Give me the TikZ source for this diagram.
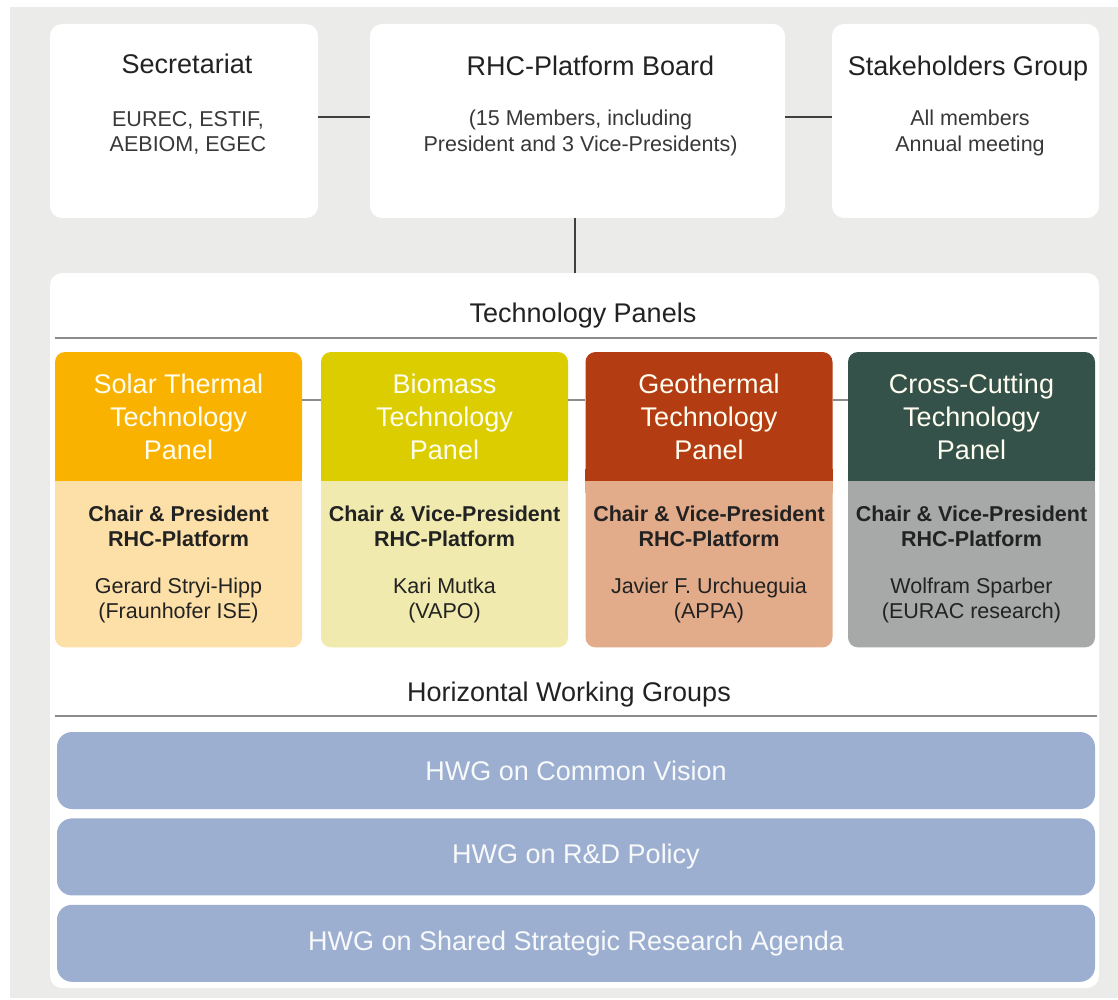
\documentclass[tikz,border=0pt]{standalone}
\usepackage{fontspec}
\setmainfont{Liberation Sans}
\usetikzlibrary{positioning,calc}

\definecolor{bggray}{HTML}{EBEBE9}
\definecolor{solarhdr}{HTML}{F9B200}
\definecolor{solarbody}{HTML}{FDE0A8}
\definecolor{biohdr}{HTML}{DCCD00}
\definecolor{biobody}{HTML}{F0EAAE}
\definecolor{geohdr}{HTML}{B33C12}
\definecolor{geobody}{HTML}{E2AB8A}
\definecolor{crosshdr}{HTML}{34514A}
\definecolor{crossbody}{HTML}{A6A9A7}
\definecolor{hwgblue}{HTML}{9CAFD0}
\definecolor{rulegray}{HTML}{8C8C8C}
\definecolor{inkgray}{HTML}{222222}

\begin{document}
\begin{tikzpicture}[x=1pt, y=-1pt,
    bigfont/.style={font=\fontsize{27}{33}\selectfont},
    smallfont/.style={font=\fontsize{21.5}{25.5}\selectfont},
    topbox/.style={fill=white, rounded corners=12pt, inner sep=0pt, minimum height=194pt},
    boxtitle/.style={bigfont, text=inkgray, inner sep=0pt},
    boxsub/.style={smallfont, text=inkgray!90, align=center, inner sep=0pt},
    linkline/.style={draw=black!75, line width=1.5pt},
    sepline/.style={draw=rulegray, line width=2.5pt},
    panelline/.style={draw=rulegray, line width=2pt},
    panelhdr/.style={rounded corners=10pt, minimum width=247pt, minimum height=129pt,
      inner sep=0pt, bigfont, text=white!94!yellow, align=center},
    panelinfo/.style={rounded corners=10pt, minimum width=247pt, minimum height=166pt,
      inner sep=0pt, smallfont, text=inkgray, align=center},
    hwg/.style={fill=hwgblue, rounded corners=15pt, minimum width=1038pt, minimum height=77pt,
      inner sep=0pt, bigfont, text=white!92!hwgblue},
  ]
  \useasboundingbox (0,0) rectangle (1118,1000);
  \fill[white] (0,0) rectangle (1118,1000);
  \fill[bggray] (10,7) rectangle (1118,998);

  % top row
  \node[topbox, minimum width=268pt] (secretariat) at (184,121) {};
  \node[topbox, minimum width=415pt] (board) at (577.5,121) {};
  \node[topbox, minimum width=267pt] (stakeholders) at (965.5,121) {};

  \node[boxtitle] (sectitle) at ($(secretariat.north)+(3,40)$) {Secretariat};
  \node[boxsub] (secsub) at ($(secretariat.north)+(4,109)$) {EUREC, ESTIF,\\AEBIOM, EGEC};
  \node[boxtitle] (boardtitle) at ($(board.north)+(13,42)$) {RHC-Platform Board};
  \node[boxsub] (boardsub) at ($(board.north)+(3,109)$) {(15 Members, including\\President and 3 Vice-Presidents)};
  \node[boxtitle] (staketitle) at ($(stakeholders.north)+(2.5,45)$) {Stakeholders Group};
  \node[boxsub] (stakesub) at ($(stakeholders.north)+(4.5,109)$) {All members\\Annual meeting};

  \draw[linkline] ([yshift=4pt]secretariat.east) -- ([yshift=4pt]board.west);
  \draw[linkline] ([yshift=4pt]board.east) -- ([yshift=4pt]stakeholders.west);

  % lower area
  \node[fill=white, rounded corners=12pt, minimum width=1049pt, minimum height=715pt, inner sep=0pt] (tech) at (574.5,630.5) {};
  \draw[linkline] ([xshift=-2.5pt]board.south) -- ([xshift=-2.5pt]board.south |- tech.north);

  \node[boxtitle] (techtitle) at (583,316) {Technology Panels};
  \draw[sepline] ($(tech.north west)+(5,65)$) -- ($(tech.north east)+(-2,65)$);

  % technology panels
  \node[panelhdr, fill=solarhdr] (solar) at (178.5,416.5) {Solar Thermal\\Technology\\Panel};
  \node[panelinfo, fill=solarbody, below=0pt of solar] (solarinfo) {\textbf{Chair \& President}\\\textbf{RHC-Platform}\\[21pt]Gerard Stryi-Hipp\\(Fraunhofer ISE)};
  \fill[solarhdr] ([yshift=12pt]solar.south west) rectangle (solar.south east);
  \fill[solarbody] (solarinfo.north west) rectangle ([yshift=-12pt]solarinfo.north east);

  \node[panelhdr, fill=biohdr] (biomass) at (444.5,416.5) {Biomass\\Technology\\Panel};
  \node[panelinfo, fill=biobody, below=0pt of biomass] (biomassinfo) {\textbf{Chair \& Vice-President}\\\textbf{RHC-Platform}\\[21pt]Kari Mutka\\(VAPO)};
  \fill[biohdr] ([yshift=12pt]biomass.south west) rectangle (biomass.south east);
  \fill[biobody] (biomassinfo.north west) rectangle ([yshift=-12pt]biomassinfo.north east);

  \node[panelhdr, fill=geohdr] (geothermal) at (709,416.5) {Geothermal\\Technology\\Panel};
  \node[panelinfo, fill=geobody, below=0pt of geothermal] (geothermalinfo) {\textbf{Chair \& Vice-President}\\\textbf{RHC-Platform}\\[21pt]Javier F. Urchueguia\\(APPA)};
  \fill[geohdr] ([yshift=12pt]geothermal.south west) rectangle (geothermal.south east);
  \fill[geobody] (geothermalinfo.north west) rectangle ([yshift=-12pt]geothermalinfo.north east);

  \node[panelhdr, fill=crosshdr] (crosscut) at (971.5,416.5) {Cross-Cutting\\Technology\\Panel};
  \node[panelinfo, fill=crossbody, below=0pt of crosscut] (crosscutinfo) {\textbf{Chair \& Vice-President}\\\textbf{RHC-Platform}\\[21pt]Wolfram Sparber\\(EURAC research)};
  \fill[crosshdr] ([yshift=12pt]crosscut.south west) rectangle (crosscut.south east);
  \fill[crossbody] (crosscutinfo.north west) rectangle ([yshift=-12pt]crosscutinfo.north east);

  \draw[panelline] ([yshift=17pt]solar.east) -- ([yshift=17pt]biomass.west);
  \draw[panelline] ([yshift=17pt]biomass.east) -- ([yshift=17pt]geothermal.west);
  \draw[panelline] ([yshift=17pt]geothermal.east) -- ([yshift=17pt]crosscut.west);

  % working groups
  \node[boxtitle] (hwgtitle) at (569,695) {Horizontal Working Groups};
  \draw[sepline] ($(tech.north west)+(5,443)$) -- ($(tech.north east)+(-2,443)$);

  \node[hwg] (vision) at (576,770.5) {HWG on Common Vision};
  \node[hwg, below=9pt of vision] (policy) {HWG on R\&D Policy};
  \node[hwg, below=9pt of policy] (agenda) {HWG on Shared Strategic Research Agenda};
\end{tikzpicture}
\end{document}
